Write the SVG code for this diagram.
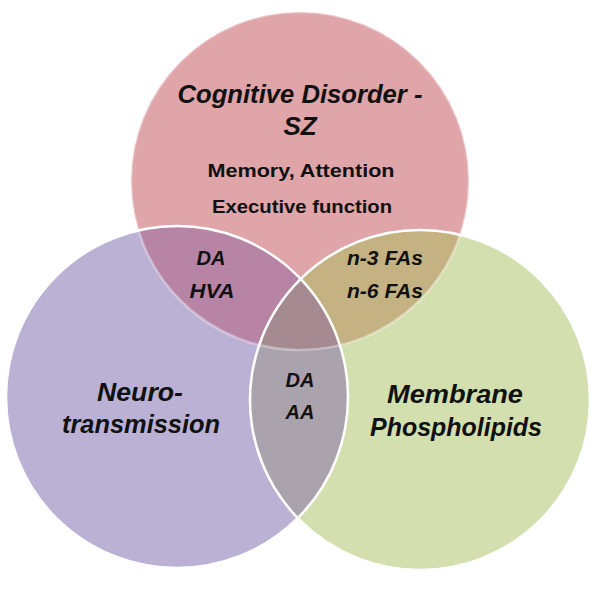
<svg xmlns="http://www.w3.org/2000/svg" width="600" height="591" viewBox="0 0 600 591">
  <style>
    .t { font-family: "Liberation Sans", Arial, sans-serif; fill: #111; text-anchor: middle; }
    .bi { font-weight: bold; font-style: italic; }
    .b { font-weight: bold; }
    .edge { fill: none; stroke: #ffffff; stroke-width: 2.5; }
  </style>
  <defs>
    <clipPath id="cTop"><circle cx="300" cy="181" r="169"/></clipPath>
    <clipPath id="cLeft"><circle cx="177" cy="397" r="171"/></clipPath>
    <clipPath id="cRight"><circle cx="420" cy="400" r="170"/></clipPath>
  </defs>
  <rect width="600" height="591" fill="#ffffff"/>

  <g id="circle-top">
    <circle cx="300" cy="181" r="169" fill="#dfa5a8"/>
  </g>
  <g id="circle-left">
    <circle cx="177" cy="397" r="171" fill="#bbb1d5"/>
  </g>
  <g id="circle-right">
    <circle cx="420" cy="400" r="170" fill="#d3dfaf"/>
  </g>

  <g id="overlap-top-left" clip-path="url(#cTop)">
    <circle cx="177" cy="397" r="171" fill="#b784a6"/>
  </g>
  <g id="overlap-top-right" clip-path="url(#cTop)">
    <circle cx="420" cy="400" r="170" fill="#c4b283"/>
  </g>
  <g id="overlap-left-right" clip-path="url(#cLeft)">
    <circle cx="420" cy="400" r="170" fill="#aaa3ae"/>
  </g>
  <g id="overlap-all" clip-path="url(#cTop)">
    <g clip-path="url(#cLeft)">
      <circle cx="420" cy="400" r="170" fill="#a58a92"/>
    </g>
  </g>

  <g id="outlines">
    <circle class="edge" cx="300" cy="181" r="169" stroke-opacity="0.35"/>
    <circle class="edge" cx="177" cy="397" r="171"/>
    <circle class="edge" cx="420" cy="400" r="170"/>
  </g>

  <g id="label-top">
    <text class="t bi" x="300" y="103" font-size="26" textLength="245" lengthAdjust="spacingAndGlyphs">Cognitive Disorder -</text>
    <text class="t bi" x="300" y="135" font-size="26">SZ</text>
    <text class="t b" x="301" y="177" font-size="19" textLength="187" lengthAdjust="spacingAndGlyphs">Memory, Attention</text>
    <text class="t b" x="302" y="213" font-size="19" textLength="180" lengthAdjust="spacingAndGlyphs">Executive function</text>
  </g>
  <g id="label-top-left">
    <text class="t bi" x="211" y="265" font-size="20">DA</text>
    <text class="t bi" x="212" y="298" font-size="20" textLength="45" lengthAdjust="spacingAndGlyphs">HVA</text>
  </g>
  <g id="label-top-right">
    <text class="t bi" x="385" y="265" font-size="20" textLength="76" lengthAdjust="spacingAndGlyphs">n-3 FAs</text>
    <text class="t bi" x="385" y="298" font-size="20" textLength="76" lengthAdjust="spacingAndGlyphs">n-6 FAs</text>
  </g>
  <g id="label-left-right">
    <text class="t bi" x="300" y="387" font-size="20">DA</text>
    <text class="t bi" x="300" y="419" font-size="20">AA</text>
  </g>
  <g id="label-left">
    <text class="t bi" x="140" y="401" font-size="26" textLength="86" lengthAdjust="spacingAndGlyphs">Neuro-</text>
    <text class="t bi" x="141" y="433" font-size="26" textLength="158" lengthAdjust="spacingAndGlyphs">transmission</text>
  </g>
  <g id="label-right">
    <text class="t bi" x="455" y="403" font-size="26" textLength="136" lengthAdjust="spacingAndGlyphs">Membrane</text>
    <text class="t bi" x="456" y="436" font-size="26" textLength="172" lengthAdjust="spacingAndGlyphs">Phospholipids</text>
  </g>
</svg>
